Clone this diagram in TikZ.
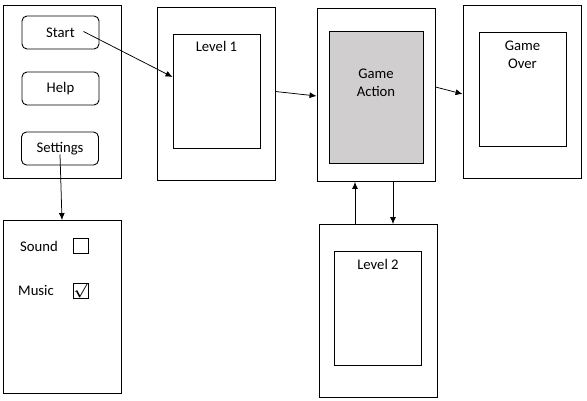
\documentclass[tikz,border=0pt]{standalone}
\usepackage{amsmath,amssymb}
\usepackage{fontspec}
\setmainfont{Carlito}
\usetikzlibrary{arrows.meta}
\definecolor{actiongray}{RGB}{208,206,206}

\begin{document}
\begin{tikzpicture}[
                            x=1pt, y=-1pt,
                            ->,
                            >={Latex[length=7pt,width=6pt]},
                            line width=0.75pt,
                            font=\fontsize{14.7pt}{17.6pt}\selectfont
                        ]
                        \tikzstyle{screen}=[draw=black,fill=white,line width=0.9pt,minimum width=118pt,minimum height=173pt,inner sep=0pt]
                        \tikzstyle{panel}=[draw=black,fill=white,line width=0.9pt,minimum width=87pt,minimum height=114pt,inner sep=0pt]
                        \tikzstyle{button}=[draw=black,line width=0.9pt,rounded corners=5pt,minimum width=77pt,minimum height=33pt,inner sep=0pt]
                        \tikzstyle{tick}=[draw=black,line width=0.9pt,minimum size=15pt,inner sep=0pt]
                        \tikzstyle{caption}=[align=center,inner sep=0pt]

                        \useasboundingbox (0,0) rectangle (587,401);

                        % main menu
                        \node[screen]              (menu)     at (62,92)      {};
                        \node[button]              (start)    at (60.5,32.5)  {Start};
                        \node[button]              (help)     at (60.5,88.5)  {Help};
                        \node[button]              (settings) at (60,148.5)   {Settings};

                        % settings screen
                        \node[screen]              (setup)    at (62,307)     {};
                        \node[caption]             (sound)    at (39,246)     {Sound};
                        \node[tick]                (soundbox) at (80.5,246)   {};
                        \node[caption]             (music)    at (36,290)     {Music};
                        \node[tick]                (musicbox) at (80.5,290.5) {$\boldsymbol{\surd}$};

                        % level 1
                        \node[screen]              (lvlone)      at (216,93.5)  {};
                        \node[panel]               (lvloneinner) at (216.5,91)  {};
                        \node[caption] at ([yshift=-13pt]lvloneinner.north) {Level 1};

                        % game action
                        \node[screen]              (game)      at (376,95)   {};
                        \node[panel,fill=actiongray,minimum width=94pt,minimum height=132pt]
                                                   (gameinner) at (376,97)   {};
                        \node[caption] at ([yshift=-52pt]gameinner.north) {Game\\Action};

                        % game over
                        \node[screen]              (over)      at (522,91.5)  {};
                        \node[panel]               (overinner) at (522.5,89)  {};
                        \node[caption] at ([yshift=-23pt]overinner.north) {Game\\Over};

                        % level 2
                        \node[screen]              (lvltwo)      at (378,311)  {};
                        \node[panel]               (lvltwoinner) at (378,308)  {};
                        \node[caption] at ([yshift=-14pt]lvltwoinner.north) {Level 2};

                        \path
                        ([xshift=23pt,yshift=1pt]start.center)  edge ([yshift=14pt]lvloneinner.west)
                        ([yshift=-6pt]settings.center)          edge (setup.north)
                        ([yshift=2pt]lvlone.east)               edge ([yshift=-1pt]game.west)
                        ([yshift=8pt]game.east)                 edge ([yshift=-2.5pt]over.west)
                        ([xshift=-23pt]lvltwo.north)            edge ([xshift=-21pt]game.south)
                        ([xshift=17pt]game.south)               edge ([xshift=15pt]lvltwo.north)
                        ;
                    \end{tikzpicture}
\end{document}
